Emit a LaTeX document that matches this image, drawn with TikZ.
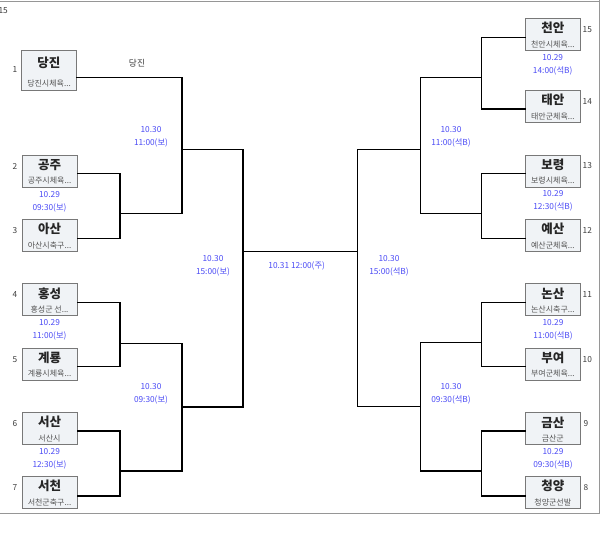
\documentclass[tikz,border=0pt]{standalone}
\usepackage{fontspec}
\setmainfont{Noto Sans CJK KR}
\usetikzlibrary{calc}
\definecolor{boxfill}{RGB}{240,243,246}
\definecolor{boxdraw}{RGB}{120,120,120}
\definecolor{datec}{RGB}{75,75,245}
\definecolor{numc}{RGB}{60,60,60}
\definecolor{subc}{RGB}{85,85,85}
\definecolor{framec}{RGB}{150,150,150}
\tikzset{
 tbox/.style={draw=boxdraw, fill=boxfill, line width=0.9pt, minimum width=55pt, inner sep=0pt},
 ttl/.style={inner sep=0pt, font=\fontsize{12.5}{14}\selectfont\bfseries, text=black!85},
 subt/.style={inner sep=0pt, font=\fontsize{8}{9}\selectfont, text=subc},
 num/.style={inner sep=0pt, font=\fontsize{8.3}{10}\selectfont, text=numc},
 dt/.style={inner sep=0pt, font=\fontsize{8.3}{13}\selectfont, text=datec, align=center},
 conn/.style={line width=1.5pt, line cap=rect, line join=miter},
 frame/.style={draw=framec, line width=0.8pt},
}
% name, x, y, height, title, sub, title offset, sub offset
\newcommand{\teambox}[8]{%
  \node[tbox, minimum height=#4pt] (#1) at (#2,#3) {};
  \node[ttl] (#1t) at ($(#1.center)+(0,#7)$) {#5};
  \node[subt] (#1s) at ($(#1.center)+(0,#8)$) {#6};
}
\begin{document}
\begin{tikzpicture}[x=1pt,y=-1pt]
\useasboundingbox (0,0) rectangle (600,554);
% frame
\draw[frame] (0,1) -- (600,1);
\draw[frame] (0,513) -- (600,513);
\draw[frame] (599.5,0) -- (599.5,513);
\node[num, anchor=east] (topnum) at (8,11) {15};

% left boxes
\teambox{b1}{49}{70.7}{40}{당진}{당진시체육...}{-7.4}{12.6}
\teambox{b2}{49.5}{171}{32}{공주}{공주시체육...}{-6}{10}
\teambox{b3}{49.5}{235.3}{32}{아산}{아산시축구...}{-6}{10}
\teambox{b4}{49.5}{299.5}{32}{홍성}{홍성군 선...}{-6}{10}
\teambox{b5}{49.5}{364}{32}{계룡}{계룡시체육...}{-6}{10}
\teambox{b6}{49.5}{428.3}{32}{서산}{서산시}{-6}{10}
\teambox{b7}{49.5}{492.3}{32}{서천}{서천군축구...}{-6}{10}
% right boxes
\teambox{b15}{552.8}{34.2}{32}{천안}{천안시체육...}{-6}{10}
\teambox{b14}{552.8}{106.3}{32}{태안}{태안군체육...}{-6}{10}
\teambox{b13}{552.8}{171}{32}{보령}{보령시체육...}{-6}{10}
\teambox{b12}{552.8}{235.3}{32}{예산}{예산군체육...}{-6}{10}
\teambox{b11}{552.8}{299.5}{32}{논산}{논산시축구...}{-6}{10}
\teambox{b10}{552.8}{364}{32}{부여}{부여군체육...}{-6}{10}
\teambox{b9}{552.8}{428.3}{32}{금산}{금산군}{-6}{10}
\teambox{b8}{552.8}{492.3}{32}{청양}{청양군선발}{-6}{10}

% seed numbers
\node[num] (n1) at (15,70) {1};
\node[num] (n2) at (15,166) {2};
\node[num] (n3) at (15,231) {3};
\node[num] (n4) at (15,295) {4};
\node[num] (n5) at (15,360) {5};
\node[num] (n6) at (15,424) {6};
\node[num] (n7) at (15,488) {7};
\node[num, anchor=west] (n15) at (582.5,29.3) {15};
\node[num, anchor=west] (n14) at (582.5,102) {14};
\node[num, anchor=west] (n13) at (582.5,166) {13};
\node[num, anchor=west] (n12) at (582.5,230.7) {12};
\node[num, anchor=west] (n11) at (582.5,295) {11};
\node[num, anchor=west] (n10) at (582.5,360) {10};
\node[num, anchor=west] (n9) at (583.5,424) {9};
\node[num, anchor=west] (n8) at (583.5,488) {8};

% connector end points on boxes
\coordinate (p1) at ($(b1.east)+(0,7)$);
\coordinate (p2) at ($(b2.east)+(0,2.3)$);
\coordinate (p3) at ($(b3.east)+(0,3)$);
\coordinate (p4) at ($(b4.east)+(0,2.8)$);
\coordinate (p5) at ($(b5.east)+(0,2.7)$);
\coordinate (p6) at ($(b6.east)+(0,2.7)$);
\coordinate (p7) at ($(b7.east)+(0,3.7)$);
\coordinate (p15) at ($(b15.west)+(0,3.5)$);
\coordinate (p14) at ($(b14.west)+(0,2.7)$);
\coordinate (p13) at ($(b13.west)+(0,2.3)$);
\coordinate (p12) at ($(b12.west)+(0,3)$);
\coordinate (p11) at ($(b11.west)+(0,2.8)$);
\coordinate (p10) at ($(b10.west)+(0,2.7)$);
\coordinate (p9) at ($(b9.west)+(0,2.7)$);
\coordinate (p8) at ($(b8.west)+(0,3.7)$);

% junctions
\coordinate (m23) at (120,213.3);
\coordinate (m45) at (120,343.3);
\coordinate (m67) at (120,471);
\coordinate (r1) at (182,149.3);
\coordinate (r2) at (182,407);
\coordinate (fl) at (243,251.5);
\coordinate (m1514) at (481.7,77.7);
\coordinate (m1312) at (481.7,213.3);
\coordinate (m1110) at (481.7,342.7);
\coordinate (m98) at (481.7,471);
\coordinate (s1) at (420.7,149.3);
\coordinate (s2) at (420.7,406.7);
\coordinate (fr) at (357.7,251.5);

% left bracket
\draw[conn] (p2) -| (m23) |- (p3);
\draw[conn] (p4) -| (m45) |- (p5);
\draw[conn] (p6) -| (m67) |- (p7);
\draw[conn] (p1) -| (r1) |- (m23);
\draw[conn] (m45) -| (r2) |- (m67);
\draw[conn] (r1) -| (fl) |- (r2);
% right bracket
\draw[conn] (p15) -| (m1514) |- (p14);
\draw[conn] (p13) -| (m1312) |- (p12);
\draw[conn] (p11) -| (m1110) |- (p10);
\draw[conn] (p9) -| (m98) |- (p8);
\draw[conn] (m1514) -| (s1) |- (m1312);
\draw[conn] (m1110) -| (s2) |- (m98);
\draw[conn] (s1) -| (fr) |- (s2);
% final
\draw[conn] (fl) -- (fr);

% winner label
\node[inner sep=0pt, font=\fontsize{8.7}{10}\selectfont, text=numc] (w1) at (137,63.3) {당진};

% dates left
\node[dt] (d1) at (151,136.5) {10.30\\11:00(보)};
\node[dt] (d2) at (49.5,201.5) {10.29\\09:30(보)};
\node[dt] (d3) at (49.5,329.5) {10.29\\11:00(보)};
\node[dt] (d4) at (151,393.8) {10.30\\09:30(보)};
\node[dt] (d5) at (49.5,458.5) {10.29\\12:30(보)};
\node[dt] (d6) at (213,265.8) {10.30\\15:00(보)};
\node[dt] (df) at (296.7,265.5) {10.31 12:00(주)};
% dates right
\node[dt] (e1) at (552.7,64.7) {10.29\\14:00(석B)};
\node[dt] (e2) at (451,136.5) {10.30\\11:00(석B)};
\node[dt] (e3) at (553,200.8) {10.29\\12:30(석B)};
\node[dt] (e4) at (389,265.8) {10.30\\15:00(석B)};
\node[dt] (e5) at (553,329.5) {10.29\\11:00(석B)};
\node[dt] (e6) at (451,393.8) {10.30\\09:30(석B)};
\node[dt] (e7) at (553,458.5) {10.29\\09:30(석B)};
\end{tikzpicture}
\end{document}
